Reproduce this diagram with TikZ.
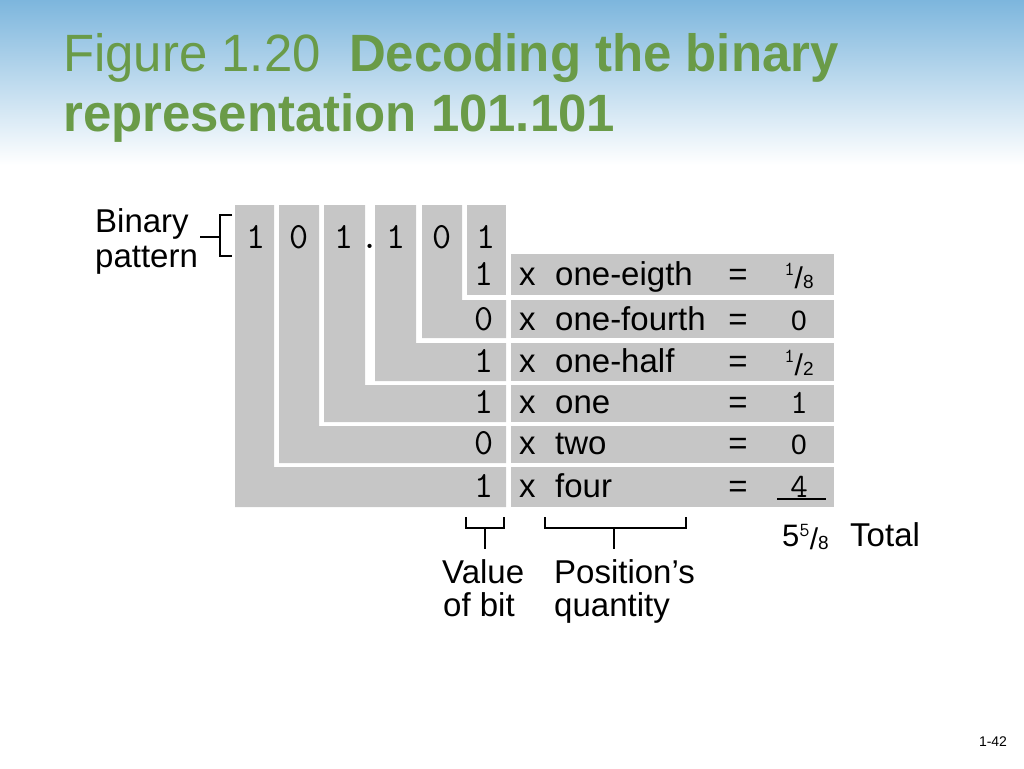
\documentclass[tikz,border=0pt]{standalone}
\usepackage{fontspec}
\setmainfont{Liberation Sans}
\newfontfamily\titlefont{Liberation Sans}[FakeStretch=0.97]
\definecolor{titlegreen}{HTML}{6A9B48}
\definecolor{skyblue}{HTML}{7DB6DD}
\definecolor{boxgray}{HTML}{C6C6C6}
\newcommand{\fr}[2]{\raisebox{10pt}{\fontsize{20}{20}\selectfont\ttfamily #1}\kern0pt\raisebox{-3pt}{\fontsize{30}{30}\selectfont\rmfamily /}\kern0pt\raisebox{-3pt}{\fontsize{19}{19}\selectfont\rmfamily #2}}
\tikzset{
  gray/.style={fill=boxgray},
  lbl/.style={inner sep=0pt, font=\fontsize{33}{33}\selectfont, text=black},
  dig/.style={inner sep=0pt, font=\fontsize{37}{37}\selectfont\ttfamily, text=black},
  brk/.style={draw=black, line width=1.4pt}
}
\begin{document}
\begin{tikzpicture}[x=1pt,y=-1pt]
\useasboundingbox (0,0) rectangle (1024,768);
\shade[top color=skyblue, bottom color=white] (0,0) rectangle (1024,165);
% title
\node[inner sep=0pt, anchor=base west, text=titlegreen, font=\fontsize{52.5}{52.5}\selectfont\titlefont] (t1) at (63,71) {Figure 1.20\ \ \textbf{Decoding the binary}};
\node[inner sep=0pt, anchor=base west, text=titlegreen, font=\fontsize{52.5}{52.5}\selectfont\titlefont\bfseries] (t2) at (63,131) {representation 101.101};
% L shapes
\fill[gray] (235,205) -- (274,205) -- (274,467) -- (506,467) -- (506,507) -- (235,507) -- cycle;
\fill[gray] (279,205) -- (319,205) -- (319,426) -- (506,426) -- (506,463) -- (279,463) -- cycle;
\fill[gray] (324,205) -- (365,205) -- (365,385) -- (506,385) -- (506,422) -- (324,422) -- cycle;
\fill[gray] (375,205) -- (416,205) -- (416,343) -- (506,343) -- (506,381) -- (375,381) -- cycle;
\fill[gray] (422,205) -- (462,205) -- (462,300) -- (506,300) -- (506,338) -- (422,338) -- cycle;
\fill[gray] (467,205) rectangle (506,295);
% right boxes
\foreach \a/\b in {254/295,300/338,343/381,385/422,426/463,467/507}{
  \fill[gray] (511,\a) rectangle (834,\b);
}
% top digits
\node[dig, anchor=base] (b1) at (256,248) {1};
\node[dig, anchor=base] (b2) at (299,248) {0};
\node[dig, anchor=base] (b3) at (344,248) {1};
\node[dig, anchor=base] (pt) at (370,248) {.};
\node[dig, anchor=base] (b4) at (396,248) {1};
\node[dig, anchor=base] (b5) at (442,248) {0};
\node[dig, anchor=base] (b6) at (486,248) {1};
% rows
\foreach \y/\d/\w/\v [count=\i] in {285/1/one-eigth/{\fr{1}{8}},330/0/one-fourth/{\fontsize{28}{28}\selectfont\rmfamily 0},372/1/one-half/{\fr{1}{2}},413/1/one/1,454/0/two/{\fontsize{28}{28}\selectfont\rmfamily 0},497/1/four/4}{
  \node[dig, anchor=base] (d\i) at (484,\y) {\d};
  \node[lbl, anchor=base west] (x\i) at (519,\y) {x};
  \node[lbl, anchor=base west] (w\i) at (555,\y) {\w};
  \node[lbl, anchor=base] (e\i) at (738,\y) {=};
  \node[dig, anchor=base] (v\i) at (799,\y) {\fontsize{34}{34}\selectfont\v};
}
\coordinate (ul1) at (777,499);
\coordinate (ul2) at (826,499);
\draw[line width=1.6pt] (ul1) -- (ul2);
% total
\node[inner sep=0pt, anchor=base west] (tot) at (782,546) {\fontsize{31}{31}\selectfont 5\kern0pt\fr{5}{8}};
\node[lbl, anchor=base west] (totl) at (850,546) {Total};
% binary pattern label
\node[lbl, anchor=base west] (bin) at (95,232) {Binary};
\node[lbl, anchor=base west] (pat) at (95,267) {pattern};
\draw[brk] (200,237) -- (220,237);
\draw[brk] (232,215) -- (220,215) -- (220,256) -- (232,256);
% value of bit
\draw[brk] (466,517) -- (466,528) -- (504,528) -- (504,517);
\draw[brk] (485,528) -- (485,549);
\node[lbl, anchor=base west] (val) at (442,583) {Value};
\node[lbl, anchor=base west] (ofb) at (443,616) {of bit};
% position's quantity
\draw[brk] (545,517) -- (545,528) -- (686,528) -- (686,517);
\draw[brk] (614,528) -- (614,549);
\node[lbl, anchor=base west] (pos) at (554,583) {Position’s};
\node[lbl, anchor=base west] (qua) at (554,616) {quantity};
% page number
\node[inner sep=0pt, font=\fontsize{14}{14}\selectfont] (pg) at (993,742) {1-42};
\end{tikzpicture}
\end{document}
